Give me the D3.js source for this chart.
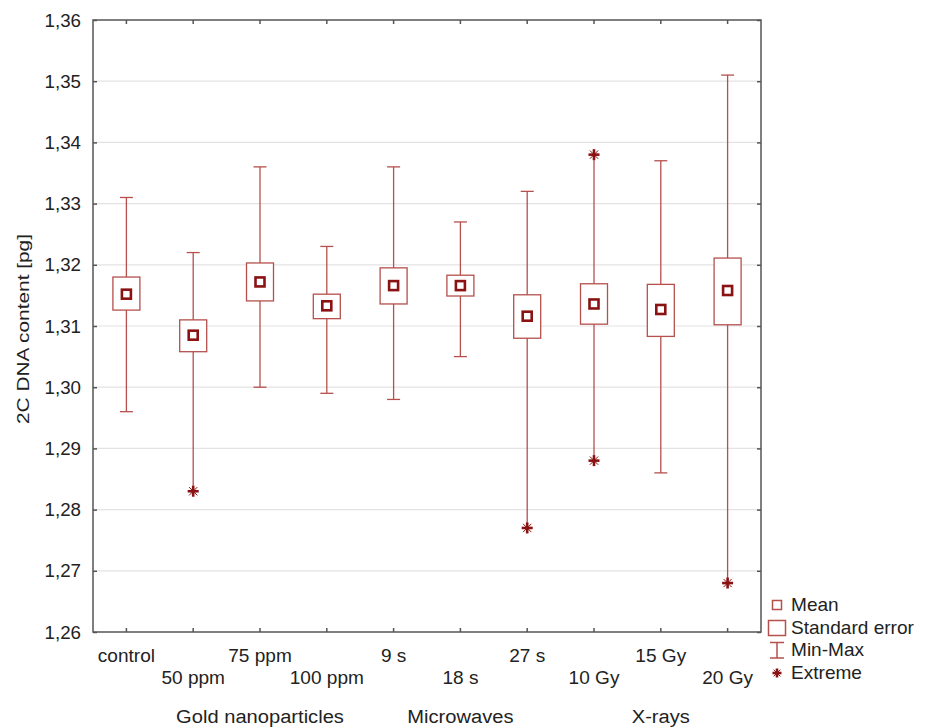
<!DOCTYPE html>
<html>
<head>
<meta charset="utf-8">
<script src="https://cdn.jsdelivr.net/npm/d3@7"></script>
<style>
  body { margin: 0; background: #fff; }
  svg { font-family: "Liberation Sans", Arial, sans-serif; }
</style>
</head>
<body>
<script>
// data (2C DNA content, pg)
var categories = ["control", "50 ppm", "75 ppm", "100 ppm", "9 s", "18 s", "27 s", "10 Gy", "15 Gy", "20 Gy"];
var means  = [1.3152, 1.3085, 1.3172, 1.3133, 1.3166, 1.3166, 1.3116, 1.3136, 1.3127, 1.3158];
var seLow  = [1.3126, 1.3058, 1.3141, 1.3112, 1.3136, 1.3149, 1.3080, 1.3103, 1.3083, 1.3102];
var seHigh = [1.3180, 1.3110, 1.3203, 1.3152, 1.3195, 1.3183, 1.3151, 1.3169, 1.3168, 1.3211];
var mins   = [1.296, 1.283, 1.300, 1.299, 1.298, 1.305, 1.277, 1.288, 1.286, 1.268];
var maxs   = [1.331, 1.322, 1.336, 1.323, 1.336, 1.327, 1.332, 1.338, 1.337, 1.351];
var extremeCats   = ["50 ppm", "27 s", "10 Gy", "10 Gy", "20 Gy"];
var extremeValues = [1.283, 1.277, 1.338, 1.288, 1.268];
var groupLabels  = ["Gold nanoparticles", "Microwaves", "X-rays"];
var groupAnchors = ["75 ppm", "18 s", "15 Gy"];
var yTicks = [1.26, 1.27, 1.28, 1.29, 1.30, 1.31, 1.32, 1.33, 1.34, 1.35, 1.36];
var legendLabels = ["Mean", "Standard error", "Min-Max", "Extreme"];

var W = 925, H = 727;
var margin = {top: 20, right: 164, bottom: 95, left: 93},
    width = W - margin.left - margin.right,
    height = H - margin.top - margin.bottom;

var lineCol = "#b5504d", meanCol = "#8b1212", frameCol = "#555", gridCol = "#e3e3e3", textCol = "#222";

var x = d3.scaleBand().domain(categories).range([0, width]);
var y = d3.scaleLinear().domain([1.26, 1.36]).range([height, 0]);
var fmt = function(v) { return d3.format(".2f")(v).replace(".", ","); };

var svg = d3.select("body").append("svg")
    .attr("width", W)
    .attr("height", H);
var g = svg.append("g")
    .attr("transform", "translate(" + margin.left + "," + margin.top + ")");

// horizontal text, slightly widened like the original export
function label(sel, tx, ty, txt, size, anchor, sx) {
  return sel.append("text")
      .attr("transform", "translate(" + tx + "," + ty + ") scale(" + sx + ",1)")
      .attr("text-anchor", anchor).attr("font-size", size).attr("fill", textCol)
      .text(txt);
}

// gridlines
g.append("g").selectAll("line").data(yTicks.slice(1, -1)).join("line")
    .attr("x1", 0).attr("x2", width)
    .attr("y1", function(d) { return y(d); }).attr("y2", function(d) { return y(d); })
    .attr("stroke", gridCol).attr("stroke-width", 1.2);

// axes (ticks point inside)
var cx = function(c) { return x(c) + x.bandwidth() / 2; };
g.append("g").attr("transform", "translate(" + width + ",0)")
    .call(d3.axisRight(y).tickValues(yTicks).tickFormat("").tickSize(-4));
g.append("g").call(d3.axisLeft(y).tickValues(yTicks).tickFormat("").tickSize(-4));
g.append("g").attr("transform", "translate(0," + height + ")")
    .call(d3.axisBottom(x).tickFormat("").tickSize(-4));
g.append("g").call(d3.axisTop(x).tickFormat("").tickSize(-4));
g.selectAll(".domain").remove();
g.selectAll(".tick line").attr("stroke", frameCol).attr("stroke-width", 1.5);
g.append("rect").attr("width", width).attr("height", height)
    .attr("fill", "none").attr("stroke", frameCol).attr("stroke-width", 1.5);

// y tick labels
var yl = g.append("g");
yTicks.forEach(function(t) {
  label(yl, -12, y(t) + 6.5, fmt(t), 18, "end", 1.04);
});

// category labels, staggered on two rows
var xl = g.append("g");
categories.forEach(function(c, i) {
  label(xl, cx(c), height + (i % 2 === 0 ? 30 : 52), c, 18, "middle", 1.06);
});

// group labels
var gl = g.append("g");
groupLabels.forEach(function(t, i) {
  label(gl, cx(groupAnchors[i]), height + 91, t, 19, "middle", 1.06);
});

// y label
svg.append("text")
    .attr("transform", "translate(28.5,329) rotate(-90)")
    .attr("text-anchor", "middle").attr("font-size", 16.5).attr("fill", textCol)
    .attr("textLength", 190).attr("lengthAdjust", "spacingAndGlyphs")
    .text("2C DNA content [pg]");

var boxW = 27, capW = 13, meanS = 9;

function isExtreme(c, v) {
  for (var k = 0; k < extremeCats.length; k++)
    if (extremeCats[k] === c && Math.abs(extremeValues[k] - v) < 1e-9) return true;
  return false;
}

function star(sel, px, py, s) {
  sel.append("line").attr("x1", px - s).attr("x2", px + s).attr("y1", py).attr("y2", py)
      .attr("stroke", meanCol).attr("stroke-width", 2.6);
  sel.append("line").attr("x1", px).attr("x2", px).attr("y1", py - s).attr("y2", py + s)
      .attr("stroke", meanCol).attr("stroke-width", 2.6);
  var d = s * 0.75;
  sel.append("line").attr("x1", px - d).attr("x2", px + d).attr("y1", py - d).attr("y2", py + d)
      .attr("stroke", meanCol).attr("stroke-width", 1);
  sel.append("line").attr("x1", px - d).attr("x2", px + d).attr("y1", py + d).attr("y2", py - d)
      .attr("stroke", meanCol).attr("stroke-width", 1);
}

var marks = g.append("g");
categories.forEach(function(c, i) {
  var px = cx(c);
  var m = marks.append("g");
  // whisker
  m.append("line").attr("x1", px).attr("x2", px)
      .attr("y1", y(mins[i])).attr("y2", y(maxs[i]))
      .attr("stroke", lineCol).attr("stroke-width", 1.3);
  [mins[i], maxs[i]].forEach(function(v) {
    if (!isExtreme(c, v))
      m.append("line").attr("x1", px - capW / 2).attr("x2", px + capW / 2)
          .attr("y1", y(v)).attr("y2", y(v))
          .attr("stroke", lineCol).attr("stroke-width", 1.3);
  });
  // standard error box
  m.append("rect").attr("x", px - boxW / 2).attr("width", boxW)
      .attr("y", y(seHigh[i])).attr("height", y(seLow[i]) - y(seHigh[i]))
      .attr("fill", "#fff").attr("stroke", lineCol).attr("stroke-width", 1.3);
  // mean
  m.append("rect").attr("x", px - meanS / 2).attr("y", y(means[i]) - meanS / 2)
      .attr("width", meanS).attr("height", meanS)
      .attr("fill", "#fff").attr("stroke", meanCol).attr("stroke-width", 2.6);
});

// extremes
extremeCats.forEach(function(c, k) {
  star(marks.append("g"), cx(c), y(extremeValues[k]), 5.5);
});

// legend
var lg = svg.append("g");
var lx = 777, ly = [605, 628, 650, 673];
lg.append("rect").attr("x", lx - 4.5).attr("y", ly[0] - 4.5).attr("width", 9).attr("height", 9)
    .attr("fill", "#fff").attr("stroke", lineCol).attr("stroke-width", 1.5);
lg.append("rect").attr("x", lx - 8.5).attr("y", ly[1] - 7.5).attr("width", 17).attr("height", 15)
    .attr("fill", "#fff").attr("stroke", lineCol).attr("stroke-width", 1.5);
lg.append("line").attr("x1", lx).attr("x2", lx).attr("y1", ly[2] - 7.5).attr("y2", ly[2] + 8)
    .attr("stroke", lineCol).attr("stroke-width", 1.5);
lg.append("line").attr("x1", lx - 7).attr("x2", lx + 7).attr("y1", ly[2] - 7.5).attr("y2", ly[2] - 7.5)
    .attr("stroke", lineCol).attr("stroke-width", 1.5);
lg.append("line").attr("x1", lx - 7).attr("x2", lx + 7).attr("y1", ly[2] + 8).attr("y2", ly[2] + 8)
    .attr("stroke", lineCol).attr("stroke-width", 1.5);
star(lg.append("g"), lx, ly[3], 4.5);
legendLabels.forEach(function(t, i) {
  label(lg, 791, ly[i] + 6.3, t, 18, "start", 1.06);
});
</script>
</body>
</html>
